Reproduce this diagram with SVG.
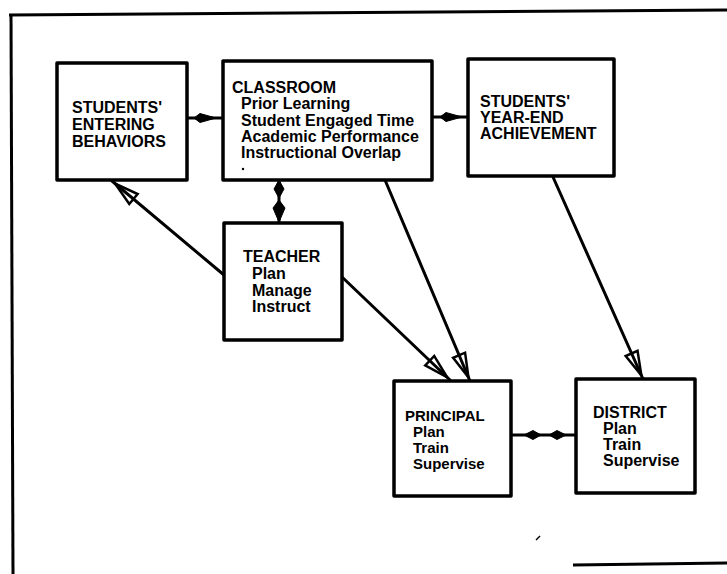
<svg xmlns="http://www.w3.org/2000/svg" width="727" height="574" viewBox="0 0 727 574">
<style>
.box{fill:#fff;stroke:#000;stroke-width:3.5;stroke-linejoin:round}
.t{font-family:"Liberation Sans",Arial,sans-serif;font-size:16px;font-weight:bold;fill:#000}
.s{font-size:15px}
.c{stroke:#000;stroke-width:3;fill:none;stroke-linecap:round}
.k{fill:#000;stroke:#000;stroke-width:1}
.frame{stroke:#000;stroke-width:3;fill:none}
</style>
<defs>
<marker id="open" markerUnits="userSpaceOnUse" viewBox="-32 -10 34 20" refX="0" refY="0" markerWidth="34" markerHeight="20" orient="auto">
<path d="M-4,0 L-28,-6.5 L-28,6.5 Z" fill="none" stroke="#000" stroke-width="2.5" stroke-linejoin="miter"/>
</marker>
<path id="kite" d="M0,0 L6,-4.5 L22,0 L6,4.5 Z"/>
</defs>

<g id="frame">
<path class="frame" d="M9,15 L727,10"/>
<path class="frame" d="M11,14 L13,574"/>
<path class="frame" d="M573,565 L727,563"/>
<path d="M536,540 L540,536" stroke="#000" stroke-width="1.5"/>
</g>

<g id="connectors">
<line class="c" x1="187" y1="118" x2="223" y2="118"/>
<use href="#kite" class="k" transform="translate(194,118)"/>
<line class="c" x1="432" y1="117" x2="468" y2="117"/>
<use href="#kite" class="k" transform="translate(440,117)"/>
<line class="c" x1="279" y1="180" x2="279" y2="223"/>
<path class="k" d="M279,180 L284,189 L279,198 L274,189 Z"/>
<path class="k" d="M279,200 L285,208 L279,222 L273,208 Z"/>
<line class="c" x1="511" y1="435" x2="576" y2="435"/>
<path class="k" d="M524,435 L533,430.5 L541,435 L533,439.5 Z"/>
<path class="k" d="M549,435 L557,430.5 L566,435 L557,439.5 Z"/>
<line class="c" x1="224" y1="275" x2="112" y2="181" marker-end="url(#open)"/>
<line class="c" x1="342" y1="277" x2="450" y2="380" marker-end="url(#open)"/>
<line class="c" x1="385" y1="180" x2="470" y2="381" marker-end="url(#open)"/>
<line class="c" x1="553" y1="177" x2="643" y2="379" marker-end="url(#open)"/>
</g>

<g id="entering">
<rect class="box" x="57" y="63" width="130" height="117"/>
<text class="t" x="72" y="113">STUDENTS'</text>
<text class="t" x="72" y="130">ENTERING</text>
<text class="t" x="72" y="147">BEHAVIORS</text>
</g>

<g id="classroom">
<rect class="box" x="223" y="61" width="209" height="119"/>
<text class="t" x="232" y="93">CLASSROOM</text>
<text class="t" x="241" y="109">Prior Learning</text>
<text class="t" x="241" y="126">Student Engaged Time</text>
<text class="t" x="241" y="142">Academic Performance</text>
<text class="t" x="241" y="158">Instructional Overlap</text>
<circle cx="243" cy="169" r="1.2" fill="#000"/>
</g>

<g id="yearend">
<rect class="box" x="468" y="59" width="146" height="117"/>
<text class="t" x="480" y="107">STUDENTS'</text>
<text class="t" x="480" y="123">YEAR-END</text>
<text class="t" x="480" y="139">ACHIEVEMENT</text>
</g>

<g id="teacher">
<rect class="box" x="224" y="223" width="118" height="117"/>
<text class="t" x="243" y="262">TEACHER</text>
<text class="t" x="252" y="279">Plan</text>
<text class="t" x="252" y="296">Manage</text>
<text class="t" x="252" y="312">Instruct</text>
</g>

<g id="principal">
<rect class="box" x="394" y="381" width="117" height="115"/>
<text class="t s" x="405" y="421">PRINCIPAL</text>
<text class="t s" x="413" y="437">Plan</text>
<text class="t s" x="413" y="453">Train</text>
<text class="t s" x="413" y="469">Supervise</text>
</g>

<g id="district">
<rect class="box" x="576" y="379" width="119" height="114"/>
<text class="t" x="593" y="418">DISTRICT</text>
<text class="t" x="603" y="434">Plan</text>
<text class="t" x="603" y="450">Train</text>
<text class="t" x="603" y="466">Supervise</text>
</g>
</svg>
